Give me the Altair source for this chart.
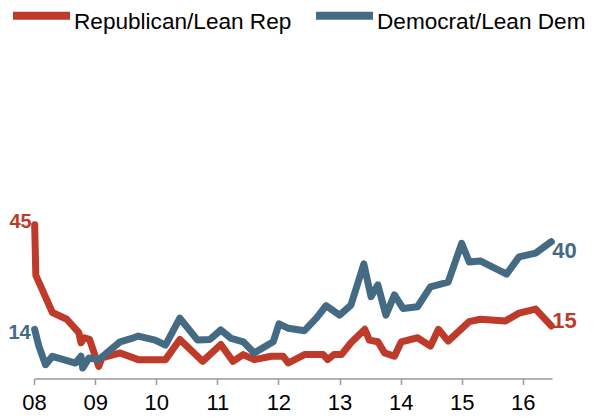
import altair as alt
import pandas as pd

# ---- data ----
series_names = ["Republican/Lean Rep", "Democrat/Lean Dem"]
series_colors = ["#BE3A2A", "#456A84"]

rep_dates = ["2008-01-05", "2008-01-12", "2008-04-20", "2008-07-15", "2008-09-25",
             "2008-10-08", "2008-10-27", "2008-11-28", "2009-01-22", "2009-02-10",
             "2009-05-30", "2009-09-15", "2010-02-25", "2010-05-22", "2010-10-05",
             "2011-01-22", "2011-04-05", "2011-06-05", "2011-08-10", "2011-11-20",
             "2012-01-30", "2012-03-01", "2012-06-05", "2012-09-25", "2012-10-22",
             "2012-11-28", "2013-01-12", "2013-03-10", "2013-06-01", "2013-06-28",
             "2013-08-18", "2013-09-27", "2013-11-25", "2014-01-05", "2014-04-12",
             "2014-06-28", "2014-08-15", "2014-10-12", "2015-02-15", "2015-04-22",
             "2015-09-20", "2015-12-10", "2016-03-18", "2016-06-20"]
rep_values = [45, 30, 19, 17, 13,
              10, 11.5, 11, 3, 5.5,
              7, 5, 5, 11, 4.5,
              9.5, 4.5, 6.5, 5, 6,
              6, 4, 6.5, 6.5, 5,
              6.5, 6.5, 10, 14, 10.8,
              10.3, 7, 6, 10.3, 11.5,
              9, 14, 10.5, 16.3, 17,
              16.5, 18.8, 20, 15]

dem_dates = ["2008-01-05", "2008-01-30", "2008-03-10", "2008-04-20", "2008-09-05",
             "2008-10-08", "2008-10-18", "2008-11-25", "2009-01-22", "2009-05-30",
             "2009-08-08", "2009-09-15", "2009-12-25", "2010-02-25", "2010-05-22",
             "2010-09-05", "2010-11-18", "2011-01-22", "2011-03-25", "2011-06-05",
             "2011-08-10", "2011-12-01", "2012-01-05", "2012-03-01", "2012-06-05",
             "2012-08-15", "2012-10-12", "2013-01-01", "2013-03-10", "2013-05-26",
             "2013-07-08", "2013-08-18", "2013-10-05", "2013-11-25", "2014-01-15",
             "2014-04-12", "2014-06-28", "2014-10-12", "2015-01-01", "2015-02-15",
             "2015-04-22", "2015-09-27", "2015-12-10", "2016-03-18", "2016-06-20"]
dem_values = [14, 9, 3.5, 6, 4,
              6, 2.5, 5.5, 5, 10.3,
              11.3, 12, 10.8, 9.3, 17.3,
              10.8, 11, 13.8, 11.3, 10.3,
              7, 10.3, 15.6, 14.3, 13.6,
              17.3, 21, 18.2, 21.2, 33.4,
              23.7, 27.2, 18.2, 24.2, 20.2,
              20.7, 26.6, 28, 39.5, 34,
              34.3, 30.4, 35.5, 36.6, 40]

year_ticks = list(range(2008, 2017))

# ---- tables ----
rows = []
for d, v in zip(rep_dates, rep_values):
    rows.append({"date": d, "value": v, "series": series_names[0]})
for d, v in zip(dem_dates, dem_values):
    rows.append({"date": d, "value": v, "series": series_names[1]})
df = pd.DataFrame(rows)

label_rows = [
    {"date": rep_dates[0], "value": rep_values[0], "series": series_names[0], "pos": "start"},
    {"date": dem_dates[0], "value": dem_values[0], "series": series_names[1], "pos": "start"},
    {"date": dem_dates[-1], "value": dem_values[-1], "series": series_names[1], "pos": "end"},
    {"date": rep_dates[-1], "value": rep_values[-1], "series": series_names[0], "pos": "end"},
]
labels_df = pd.DataFrame(label_rows)
labels_df["text"] = labels_df["value"].map(lambda v: f"{v:g}")

FONT = "Liberation Sans"

x_scale = alt.Scale(
    type="utc",
    domain=[alt.DateTime(year=2008, month=1, date=1, utc=True),
            alt.DateTime(year=2016, month=6, date=24, utc=True)],
)
y_scale = alt.Scale(domain=[0, 100], nice=False, zero=False)
color_scale = alt.Scale(domain=series_names, range=series_colors)

x_enc = alt.X(
    "date:T",
    scale=x_scale,
    axis=alt.Axis(
        values=[alt.DateTime(year=y, month=1, date=1, utc=True) for y in year_ticks],
        format="%y",
        title=None,
        grid=False,
        offset=2,
        domainColor="#9a9a9a",
        domainWidth=1.5,
        tickColor="#9a9a9a",
        tickWidth=1.5,
        tickSize=6,
        labelFont=FONT,
        labelFontSize=22,
        labelColor="#000000",
        labelPadding=8,
        labelFlush=False,
        labelOverlap=False,
    ),
)
y_enc = alt.Y("value:Q", scale=y_scale, axis=None)

lines = alt.Chart(df).mark_line(
    strokeWidth=7, strokeCap="round", strokeJoin="round"
).encode(
    x=x_enc,
    y=y_enc,
    color=alt.Color(
        "series:N",
        scale=color_scale,
        sort=series_names,
        legend=alt.Legend(
            title=None,
            orient="none",
            direction="horizontal",
            columns=2,
            legendX=-25,
            legendY=-50.5,
            symbolType="M-1,-0.22L1,-0.22",
            symbolSize=3249,
            symbolStrokeWidth=8,
            labelFont=FONT,
            labelFontSize=22.6,
            labelColor="#000000",
            labelLimit=400,
            labelOffset=0,
            columnPadding=8,
            padding=0,
        ),
    ),
)

label_styles = {
    (series_names[0], "start"): dict(align="right", dx=-3, dy=-3, fontSize=20),
    (series_names[1], "start"): dict(align="right", dx=-4, dy=4, fontSize=20),
    (series_names[1], "end"): dict(align="left", dx=1, dy=9, fontSize=22),
    (series_names[0], "end"): dict(align="left", dx=1, dy=-5, fontSize=22),
}

text_layers = []
for (name, pos), style in label_styles.items():
    color = series_colors[series_names.index(name)]
    sub = labels_df[(labels_df["series"] == name) & (labels_df["pos"] == pos)]
    text_layers.append(
        alt.Chart(sub).mark_text(
            font=FONT, fontWeight="bold", baseline="middle", color=color, **style
        ).encode(x=alt.X("date:T", scale=x_scale), y=alt.Y("value:Q", scale=y_scale), text="text:N")
    )

chart = alt.layer(lines, *text_layers).properties(
    width=518,
    height=337,
    background="white",
    autosize=alt.AutoSizeParams(type="none"),
    padding={"left": 26, "top": 31.5, "right": 37, "bottom": 42},
).configure_view(strokeWidth=0, stroke="transparent")

chart.save("out.html", embed_options={"renderer": "svg", "actions": False})
